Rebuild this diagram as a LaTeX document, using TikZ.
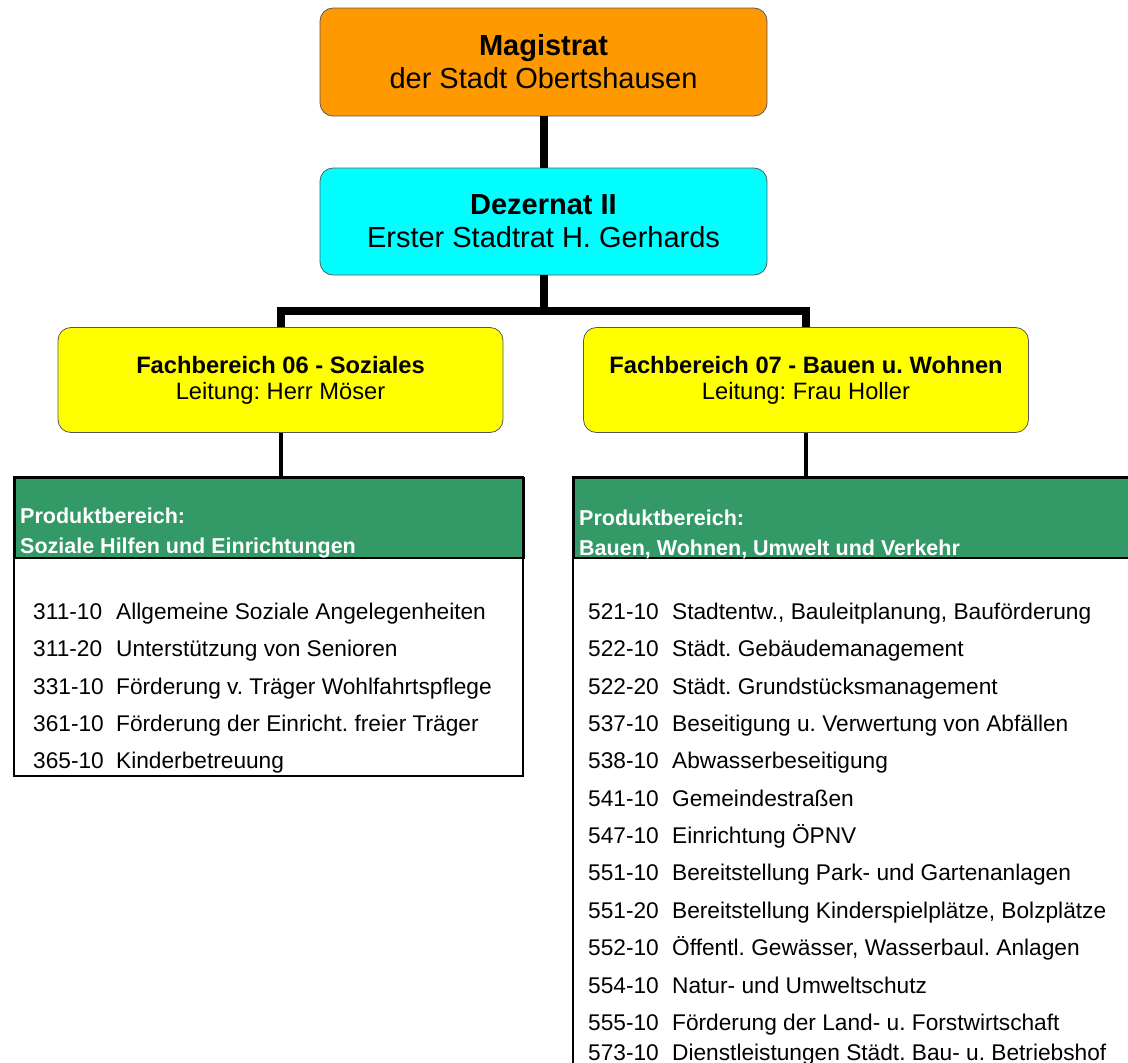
\documentclass[tikz,border=0pt]{standalone}
\usepackage{fontspec}
\usepackage{xcolor}
\usepackage{tikz}
\setmainfont{Liberation Sans}
\frenchspacing
\definecolor{magorange}{HTML}{FF9900}
\definecolor{dezcyan}{HTML}{00FFFF}
\definecolor{fbgelb}{HTML}{FFFF00}
\definecolor{pbgruen}{HTML}{339966}

\begin{document}
\begin{tikzpicture}[x=1pt, y=-1pt,
    boite/.style={draw=black!65, line width=0.8pt, rounded corners=13pt, align=center, inner sep=0pt},
    lien/.style={line width=8pt},
    lienfin/.style={line width=4pt},
    kopf/.style={draw, line width=1.6pt, fill=pbgruen, inner sep=0pt},
    kopftext/.style={text=white, align=left, inner xsep=6pt, inner ysep=0pt, font=\fontsize{21.5}{30}\selectfont\bfseries},
    rahmen/.style={line width=1.6pt},
    eintrag/.style={anchor=base west, inner sep=0pt, font=\fontsize{22.7}{26}\selectfont}]
    % Cadre
    \useasboundingbox (0,0) rectangle (1128,1063);

    % Magistrat et Dezernat
    \node[boite, fill=magorange, minimum width=447pt, minimum height=108pt, font=\fontsize{29}{33}\selectfont] (mag) at (543.5,62) {{\bfseries Magistrat}\\der Stadt Obertshausen};
    \node[boite, fill=dezcyan, minimum width=447pt, minimum height=107pt, font=\fontsize{29}{33}\selectfont] (dez) at (543.5,221.5) {{\bfseries Dezernat II}\\Erster Stadtrat H. Gerhards};

    % Fachbereiche
    \node[boite, fill=fbgelb, minimum width=445pt, minimum height=105pt, font=\fontsize{23.7}{26}\selectfont] (fb6) at (280.5,380) {{\bfseries Fachbereich 06 - Soziales}\\Leitung: Herr Möser};
    \node[boite, fill=fbgelb, minimum width=445pt, minimum height=105pt, font=\fontsize{23.7}{26}\selectfont] (fb7) at (806,380) {{\bfseries Fachbereich 07 - Bauen u. Wohnen}\\Leitung: Frau Holler};

    % Liens
    \coordinate (bar) at (543.5,311);
    \draw[lien] (mag.south) -- (dez.north);
    \draw[lien] (dez.south) -- (bar);
    \draw[lien] (bar) -| (fb6.north);
    \draw[lien] (bar) -| (fb7.north);

    % Produktbereich Soziales
    \node[kopf, minimum width=509pt, minimum height=80pt, anchor=north west] (pb6) at (14,477) {};
    \node[kopftext, anchor=south west] (pb6text) at (pb6.south west) {Produktbereich:\\Soziale Hilfen und Einrichtungen};
    \draw[rahmen] (pb6.north west) rectangle (523,776);
    \draw[lienfin] (fb6.south) -- (fb6.south |- pb6.north);
    \foreach \y/\nr/\txt [count=\i] in {619/311-10/Allgemeine Soziale Angelegenheiten,
        656/311-20/Unterstützung von Senioren,
        694/331-10/Förderung v. Träger Wohlfahrtspflege,
        731/361-10/Förderung der Einricht. freier Träger,
        768/365-10/Kinderbetreuung}
      \node[eintrag] (p6-\i) at (33,\y) {\makebox[83pt][l]{\nr}\txt};

    % Produktbereich Bauen
    \node[kopf, minimum width=570pt, minimum height=80pt, anchor=north west] (pb7) at (573,477) {};
    \node[kopftext, anchor=south west] (pb7text) at (pb7.south west) {Produktbereich:\\Bauen, Wohnen, Umwelt und Verkehr};
    \draw[rahmen] (pb7.north west) rectangle (1150,1090);
    \draw[lienfin] (fb7.south) -- (fb7.south |- pb7.north);
    \foreach \y/\nr/\txt [count=\i] in {619/521-10/{Stadtentw., Bauleitplanung, Bauförderung},
        656/522-10/Städt. Gebäudemanagement,
        694/522-20/Städt. Grundstücksmanagement,
        731/537-10/Beseitigung u. Verwertung von Abfällen,
        768/538-10/Abwasserbeseitigung,
        806/541-10/Gemeindestraßen,
        843/547-10/Einrichtung ÖPNV,
        880/551-10/Bereitstellung Park- und Gartenanlagen,
        918/551-20/{Bereitstellung Kinderspielplätze, Bolzplätze},
        955/552-10/{Öffentl. Gewässer, Wasserbaul. Anlagen},
        993/554-10/Natur- und Umweltschutz,
        1030/555-10/Förderung der Land- u. Forstwirtschaft,
        1060/573-10/Dienstleistungen Städt. Bau- u. Betriebshof}
      \node[eintrag] (p7-\i) at (588,\y) {\makebox[84pt][l]{\nr}\txt};
\end{tikzpicture}
\end{document}
